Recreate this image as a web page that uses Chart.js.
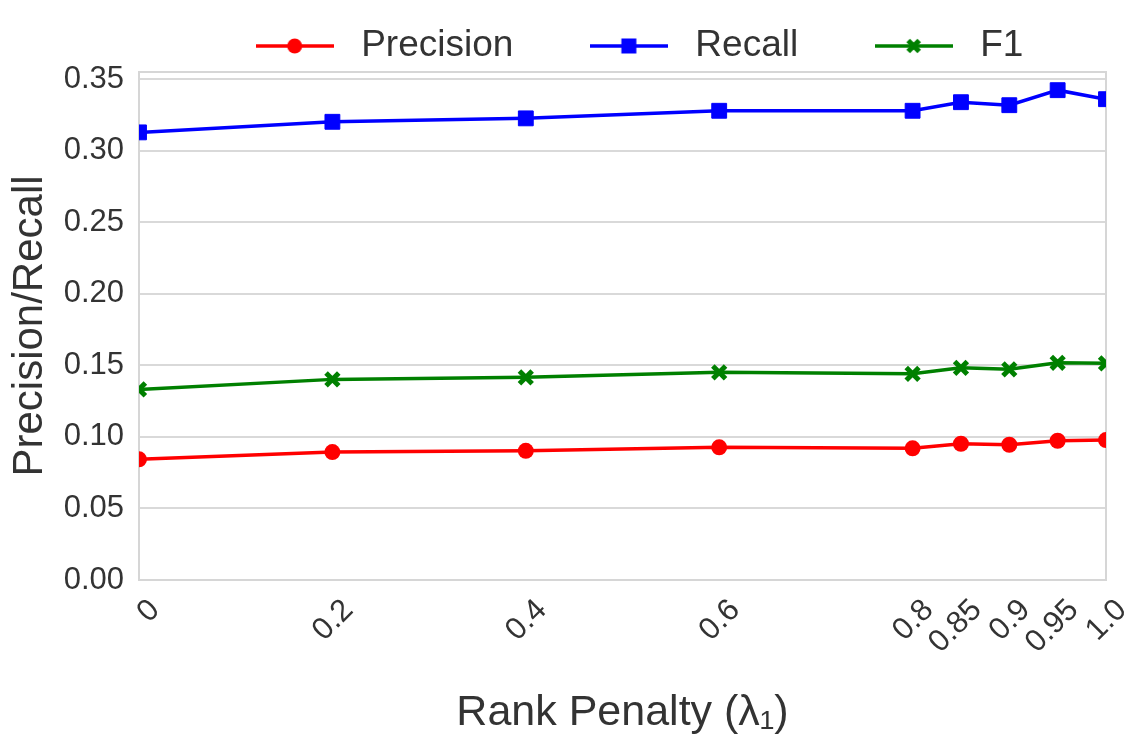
<!DOCTYPE html>
<html>
<head>
<meta charset="utf-8">
<script src="https://cdn.jsdelivr.net/npm/chart.js@4/dist/chart.umd.min.js"></script>
<style>
  body { margin: 0; background: #fff; }
</style>
</head>
<body>
<canvas id="line-chart" width="1148" height="749"></canvas>
<script>
// rank penalty values (x) and the three metrics
const penalties = [0, 0.2, 0.4, 0.6, 0.8, 0.85, 0.9, 0.95, 1.0];
const precision = [0.0843, 0.0894, 0.0903, 0.0927, 0.0920, 0.0952, 0.0945, 0.0973, 0.0978];
const recall = [0.3128, 0.3202, 0.3226, 0.3279, 0.3279, 0.3339, 0.3318, 0.3423, 0.3360];
const f1 = [0.1332, 0.1402, 0.1416, 0.1451, 0.1441, 0.1483, 0.1472, 0.1518, 0.1514];

const xTicks = [0, 0.2, 0.4, 0.6, 0.8, 0.85, 0.9, 0.95, 1.0];
const xTickLabels = ["0", "0.2", "0.4", "0.6", "0.8", "0.85", "0.9", "0.95", "1.0"];
const yTicks = [0, 0.05, 0.10, 0.15, 0.20, 0.25, 0.30, 0.35];

const textColor = '#333333';
Chart.defaults.font.family = "'Liberation Sans', Arial, sans-serif";
Chart.defaults.color = textColor;

function pts(ys) {
  return ys.map((y, i) => ({ x: penalties[i], y: y }));
}

// legend icon: short line with the marker in the middle
function makeIcon(color, style) {
  const c = document.createElement('canvas');
  c.width = 78; c.height = 26;
  const g = c.getContext('2d');
  g.strokeStyle = color; g.fillStyle = color; g.lineWidth = 3.5;
  g.beginPath(); g.moveTo(0, 13); g.lineTo(78, 13); g.stroke();
  if (style === 'circle') {
    g.beginPath(); g.arc(39, 13, 7.5, 0, Math.PI * 2); g.fill();
  } else if (style === 'rect') {
    g.fillRect(31.5, 5.5, 15, 15);
  } else {
    g.lineWidth = 5;
    g.beginPath();
    g.moveTo(33.5, 7.5); g.lineTo(44.5, 18.5);
    g.moveTo(44.5, 7.5); g.lineTo(33.5, 18.5);
    g.stroke();
  }
  return c;
}
const legendIcons = [
  makeIcon('#ff0000', 'circle'),
  makeIcon('#0000ff', 'rect'),
  makeIcon('#008000', 'x')
];

// light grey frame round the plot area
const frame = {
  id: 'frame',
  beforeDatasetsDraw(chart) {
    const a = chart.chartArea, ctx = chart.ctx;
    ctx.save();
    ctx.strokeStyle = '#d6d6d6';
    ctx.lineWidth = 2;
    ctx.strokeRect(a.left, a.top, a.right - a.left, a.bottom - a.top);
    ctx.restore();
  }
};

// keep legend short and move it where the original has it
const legendPlacer = {
  id: 'legendPlacer',
  afterInit(chart) {
    const lg = chart.legend;
    const fit = lg.fit;
    lg.fit = function () { fit.call(this); this.height = 72; };
  },
  afterLayout(chart) {
    const lg = chart.legend;
    lg.left += 82; lg.right += 82;
    lg.top -= 40;
  }
};

new Chart(document.getElementById("line-chart"), {
  type: 'line',
  data: {
    datasets: [
      {
        label: "Precision",
        data: pts(precision),
        borderColor: "#ff0000",
        backgroundColor: "#ff0000",
        pointStyle: 'circle',
        pointRadius: 8,
        pointBorderWidth: 0,
        borderWidth: 3.5,
        clip: 0
      },
      {
        label: "Recall",
        data: pts(recall),
        borderColor: "#0000ff",
        backgroundColor: "#0000ff",
        pointStyle: 'rect',
        pointRadius: 10.5,
        pointBorderWidth: 1,
        borderWidth: 3.5,
        clip: 0
      },
      {
        label: "F1",
        data: pts(f1),
        borderColor: "#008000",
        backgroundColor: "#008000",
        pointStyle: 'crossRot',
        pointRadius: 9,
        pointBorderWidth: 5,
        borderWidth: 3.5,
        clip: 0
      }
    ]
  },
  options: {
    responsive: false,
    animation: false,
    layout: { padding: { top: 0, left: 0, right: 42, bottom: 0 } },
    plugins: {
      legend: {
        position: 'top',
        labels: {
          usePointStyle: true,
          pointStyleWidth: 96,
          padding: 67.5,
          color: textColor,
          font: { size: 37 },
          generateLabels(chart) {
            const items = Chart.defaults.plugins.legend.labels.generateLabels(chart);
            items.forEach((it, i) => { it.pointStyle = legendIcons[i]; });
            return items;
          }
        }
      },
      tooltip: { enabled: false }
    },
    scales: {
      x: {
        type: 'linear',
        min: 0,
        max: 1,
        afterBuildTicks(scale) {
          scale.ticks = xTicks.map(v => ({ value: v }));
        },
        afterFit(scale) { scale.height = 169; },
        grid: { display: false, drawTicks: false },
        border: { display: false },
        ticks: {
          autoSkip: false,
          minRotation: 45,
          maxRotation: 45,
          padding: 12,
          labelOffset: 16,
          color: textColor,
          font: { size: 31 },
          callback: (v, i) => xTickLabels[i]
        },
        title: {
          display: true,
          text: 'Rank Penalty (λ₁)',
          color: textColor,
          font: { size: 43 },
          padding: { top: 0, bottom: 10 }
        }
      },
      y: {
        min: 0,
        max: 0.355,
        afterBuildTicks(scale) {
          scale.ticks = yTicks.map(v => ({ value: v }));
        },
        afterFit(scale) { scale.width = 139; },
        grid: { color: '#d9d9d9', lineWidth: 2, drawTicks: false },
        border: { display: false },
        ticks: {
          padding: 15,
          color: textColor,
          font: { size: 31 },
          callback: v => v.toFixed(2)
        },
        title: {
          display: true,
          text: 'Precision/Recall',
          color: textColor,
          font: { size: 42 },
          padding: { top: 5, bottom: 0 }
        }
      }
    }
  },
  plugins: [frame, legendPlacer]
});
</script>
</body>
</html>
